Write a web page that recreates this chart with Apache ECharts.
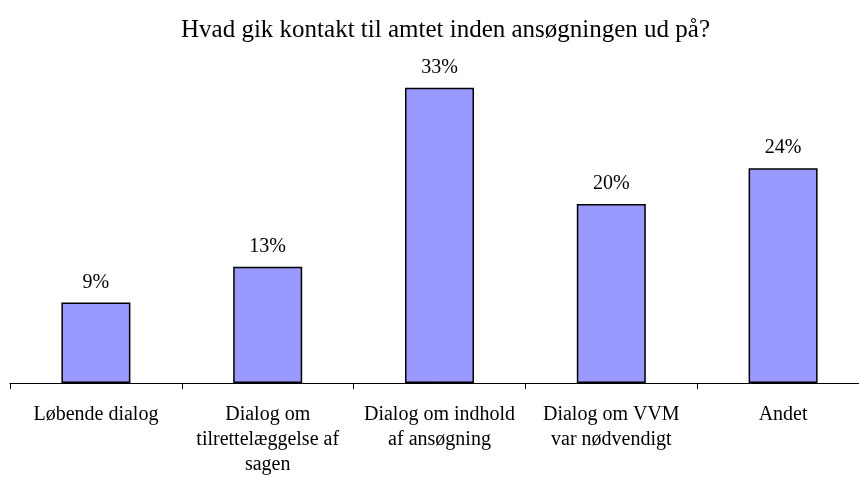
<!DOCTYPE html>
<html>
<head>
<meta charset="utf-8">
<script src="https://cdn.jsdelivr.net/npm/echarts@6/dist/echarts.min.js"></script>
<style>
  html, body { margin: 0; padding: 0; background: #fff; }
  #chart { width: 859px; height: 477px; }
</style>
</head>
<body>
<div id="chart"></div>
<script>
var titleText = 'Hvad gik kontakt til amtet inden ansøgningen ud på?';
var categories = ['Løbende dialog', 'Dialog om\ntilrettelæggelse af\nsagen', 'Dialog om indhold\naf ansøgning', 'Dialog om VVM\nvar nødvendigt', 'Andet'];
var values = [9, 13, 33, 20, 24];

var myChart = echarts.init(document.getElementById('chart'));

var option = {
    animation: false,
    title: {
        text: titleText,
        left: 176,
        top: 13,
        textStyle: {
            fontFamily: 'Liberation Serif',
            fontWeight: 'normal',
            fontSize: 25,
            color: '#000'
        }
    },
    grid: {
        left: 10,
        top: 25,
        width: 859,
        height: 358,
        outerBoundsMode: 'none'
    },
    xAxis: {
        type: 'category',
        data: categories,
        axisLine: { lineStyle: { color: '#000', width: 1 } },
        axisTick: { show: true, length: 6, lineStyle: { color: '#000' } },
        axisLabel: {
            interval: 0,
            margin: 19,
            lineHeight: 25,
            fontFamily: 'Liberation Serif',
            fontSize: 20,
            color: '#000'
        }
    },
    yAxis: {
        type: 'value',
        min: 0,
        max: 40,
        show: false,
        splitLine: { show: false }
    },
    series: [
        {
            type: 'bar',
            data: values,
            barWidth: 69,
            itemStyle: {
                color: '#9999FF',
                borderColor: '#000',
                borderWidth: 1.5
            },
            label: {
                show: true,
                position: 'top',
                distance: 10,
                formatter: '{c}%',
                fontFamily: 'Liberation Serif',
                fontSize: 20,
                color: '#000'
            }
        }
    ]
};

myChart.setOption(option);
</script>
</body>
</html>
